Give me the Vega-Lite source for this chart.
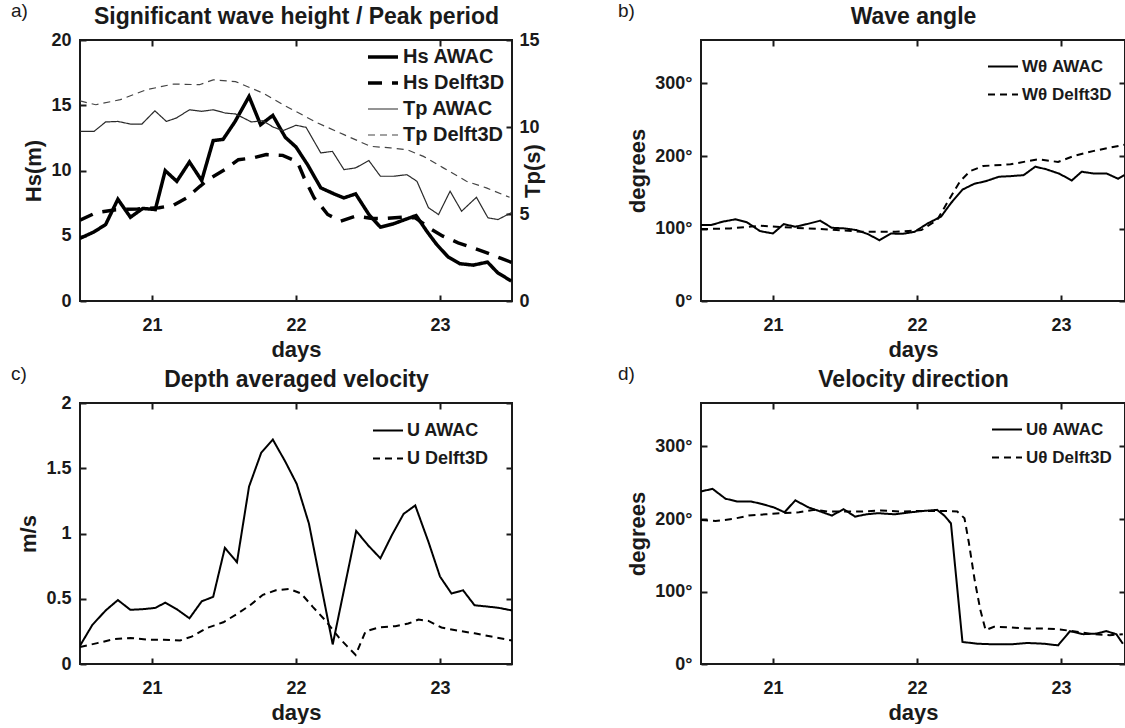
{
  "$schema": "https://vega.github.io/schema/vega-lite/v6.json",
  "background": "white",
  "padding": {"left": 10, "top": 1, "right": 0, "bottom": 0},
  "bounds": "flush",
  "columns": 2,
  "spacing": {"row": 102, "column": 189},
  "resolve": {"scale": {"strokeDash": "independent", "strokeWidth": "independent", "color": "independent"}, "legend": {"strokeDash": "independent", "strokeWidth": "independent", "color": "independent"}},
  "config": {
    "font": "Liberation Sans",
    "view": {"stroke": "#1a1a1a", "strokeWidth": 2},
    "axis": {"domain": false, "grid": false, "ticks": true, "tickSize": -6, "tickWidth": 2, "tickColor": "#1a1a1a",
      "labelFont": "Liberation Sans", "labelFontSize": 18, "labelFontWeight": "bold", "labelColor": "#1a1a1a",
      "titleFont": "Liberation Sans", "titleFontSize": 22, "titleFontWeight": "bold", "titleColor": "#1a1a1a"},
    "axisBottom": {"labelPadding": 21, "titlePadding": 5},
    "axisLeft": {"labelPadding": 15, "titlePadding": 5},
    "axisRight": {"labelPadding": 13, "titlePadding": 5, "titleAngle": 270},
    "axisTop": {"labels": false, "titleFontSize": 23, "titlePadding": 11},
    "title": {"font": "Liberation Sans", "fontSize": 19, "fontWeight": "normal", "color": "#1a1a1a", "anchor": "start", "frame": "group", "offset": 0},
    "legend": {"orient": "none", "title": null, "symbolType": "stroke", "symbolSize": 900, "labelFont": "Liberation Sans", "labelFontWeight": "bold", "labelColor": "#1a1a1a", "padding": 0, "labelOffset": 3}
  },
  "datasets": {
    "hs": [
      {"day": 20.5, "value": 4.8, "series": "Hs AWAC"},
      {"day": 20.598, "value": 5.3, "series": "Hs AWAC"},
      {"day": 20.678, "value": 5.86, "series": "Hs AWAC"},
      {"day": 20.763, "value": 7.8, "series": "Hs AWAC"},
      {"day": 20.85, "value": 6.42, "series": "Hs AWAC"},
      {"day": 20.936, "value": 7.09, "series": "Hs AWAC"},
      {"day": 21.023, "value": 7.01, "series": "Hs AWAC"},
      {"day": 21.092, "value": 9.99, "series": "Hs AWAC"},
      {"day": 21.172, "value": 9.17, "series": "Hs AWAC"},
      {"day": 21.26, "value": 10.65, "series": "Hs AWAC"},
      {"day": 21.345, "value": 9.23, "series": "Hs AWAC"},
      {"day": 21.425, "value": 12.29, "series": "Hs AWAC"},
      {"day": 21.494, "value": 12.39, "series": "Hs AWAC"},
      {"day": 21.575, "value": 13.72, "series": "Hs AWAC"},
      {"day": 21.674, "value": 15.67, "series": "Hs AWAC"},
      {"day": 21.754, "value": 13.51, "series": "Hs AWAC"},
      {"day": 21.839, "value": 14.22, "series": "Hs AWAC"},
      {"day": 21.926, "value": 12.54, "series": "Hs AWAC"},
      {"day": 22.0, "value": 11.8, "series": "Hs AWAC"},
      {"day": 22.08, "value": 10.45, "series": "Hs AWAC"},
      {"day": 22.172, "value": 8.67, "series": "Hs AWAC"},
      {"day": 22.264, "value": 8.21, "series": "Hs AWAC"},
      {"day": 22.333, "value": 7.9, "series": "Hs AWAC"},
      {"day": 22.414, "value": 8.21, "series": "Hs AWAC"},
      {"day": 22.506, "value": 6.63, "series": "Hs AWAC"},
      {"day": 22.586, "value": 5.66, "series": "Hs AWAC"},
      {"day": 22.678, "value": 5.92, "series": "Hs AWAC"},
      {"day": 22.759, "value": 6.25, "series": "Hs AWAC"},
      {"day": 22.834, "value": 6.55, "series": "Hs AWAC"},
      {"day": 22.908, "value": 5.35, "series": "Hs AWAC"},
      {"day": 22.977, "value": 4.33, "series": "Hs AWAC"},
      {"day": 23.057, "value": 3.37, "series": "Hs AWAC"},
      {"day": 23.138, "value": 2.86, "series": "Hs AWAC"},
      {"day": 23.23, "value": 2.75, "series": "Hs AWAC"},
      {"day": 23.33, "value": 2.98, "series": "Hs AWAC"},
      {"day": 23.4, "value": 2.17, "series": "Hs AWAC"},
      {"day": 23.495, "value": 1.53, "series": "Hs AWAC"},
      {"day": 20.5, "value": 6.2, "series": "Hs Delft3D"},
      {"day": 20.61, "value": 6.76, "series": "Hs Delft3D"},
      {"day": 20.75, "value": 7.0, "series": "Hs Delft3D"},
      {"day": 20.9, "value": 7.05, "series": "Hs Delft3D"},
      {"day": 21.05, "value": 7.15, "series": "Hs Delft3D"},
      {"day": 21.15, "value": 7.34, "series": "Hs Delft3D"},
      {"day": 21.24, "value": 7.9, "series": "Hs Delft3D"},
      {"day": 21.333, "value": 8.79, "series": "Hs Delft3D"},
      {"day": 21.4, "value": 9.38, "series": "Hs Delft3D"},
      {"day": 21.506, "value": 10.07, "series": "Hs Delft3D"},
      {"day": 21.6, "value": 10.83, "series": "Hs Delft3D"},
      {"day": 21.7, "value": 10.96, "series": "Hs Delft3D"},
      {"day": 21.793, "value": 11.22, "series": "Hs Delft3D"},
      {"day": 21.908, "value": 11.16, "series": "Hs Delft3D"},
      {"day": 22.01, "value": 10.66, "series": "Hs Delft3D"},
      {"day": 22.057, "value": 9.43, "series": "Hs Delft3D"},
      {"day": 22.126, "value": 7.9, "series": "Hs Delft3D"},
      {"day": 22.184, "value": 7.14, "series": "Hs Delft3D"},
      {"day": 22.22, "value": 6.63, "series": "Hs Delft3D"},
      {"day": 22.31, "value": 6.12, "series": "Hs Delft3D"},
      {"day": 22.414, "value": 6.5, "series": "Hs Delft3D"},
      {"day": 22.529, "value": 6.32, "series": "Hs Delft3D"},
      {"day": 22.62, "value": 6.32, "series": "Hs Delft3D"},
      {"day": 22.736, "value": 6.42, "series": "Hs Delft3D"},
      {"day": 22.828, "value": 6.37, "series": "Hs Delft3D"},
      {"day": 22.943, "value": 5.48, "series": "Hs Delft3D"},
      {"day": 23.02, "value": 4.97, "series": "Hs Delft3D"},
      {"day": 23.126, "value": 4.46, "series": "Hs Delft3D"},
      {"day": 23.23, "value": 4.08, "series": "Hs Delft3D"},
      {"day": 23.322, "value": 3.7, "series": "Hs Delft3D"},
      {"day": 23.425, "value": 3.26, "series": "Hs Delft3D"},
      {"day": 23.5, "value": 2.95, "series": "Hs Delft3D"}
    ],
    "tp": [
      {"day": 20.5, "value": 9.75, "series": "Tp AWAC"},
      {"day": 20.598, "value": 9.75, "series": "Tp AWAC"},
      {"day": 20.678, "value": 10.29, "series": "Tp AWAC"},
      {"day": 20.763, "value": 10.32, "series": "Tp AWAC"},
      {"day": 20.85, "value": 10.17, "series": "Tp AWAC"},
      {"day": 20.93, "value": 10.17, "series": "Tp AWAC"},
      {"day": 21.02, "value": 10.93, "series": "Tp AWAC"},
      {"day": 21.1, "value": 10.32, "series": "Tp AWAC"},
      {"day": 21.17, "value": 10.52, "series": "Tp AWAC"},
      {"day": 21.26, "value": 10.99, "series": "Tp AWAC"},
      {"day": 21.345, "value": 10.9, "series": "Tp AWAC"},
      {"day": 21.425, "value": 10.99, "series": "Tp AWAC"},
      {"day": 21.51, "value": 10.8, "series": "Tp AWAC"},
      {"day": 21.58, "value": 10.75, "series": "Tp AWAC"},
      {"day": 21.69, "value": 10.29, "series": "Tp AWAC"},
      {"day": 21.77, "value": 10.36, "series": "Tp AWAC"},
      {"day": 21.84, "value": 10.0, "series": "Tp AWAC"},
      {"day": 21.91, "value": 9.79, "series": "Tp AWAC"},
      {"day": 22.0, "value": 10.1, "series": "Tp AWAC"},
      {"day": 22.07, "value": 9.98, "series": "Tp AWAC"},
      {"day": 22.172, "value": 8.51, "series": "Tp AWAC"},
      {"day": 22.253, "value": 8.6, "series": "Tp AWAC"},
      {"day": 22.333, "value": 7.55, "series": "Tp AWAC"},
      {"day": 22.414, "value": 7.65, "series": "Tp AWAC"},
      {"day": 22.506, "value": 8.07, "series": "Tp AWAC"},
      {"day": 22.586, "value": 7.17, "series": "Tp AWAC"},
      {"day": 22.678, "value": 7.17, "series": "Tp AWAC"},
      {"day": 22.77, "value": 7.26, "series": "Tp AWAC"},
      {"day": 22.84, "value": 6.88, "series": "Tp AWAC"},
      {"day": 22.92, "value": 5.36, "series": "Tp AWAC"},
      {"day": 22.99, "value": 4.97, "series": "Tp AWAC"},
      {"day": 23.07, "value": 6.31, "series": "Tp AWAC"},
      {"day": 23.15, "value": 5.16, "series": "Tp AWAC"},
      {"day": 23.253, "value": 5.96, "series": "Tp AWAC"},
      {"day": 23.333, "value": 4.78, "series": "Tp AWAC"},
      {"day": 23.402, "value": 4.68, "series": "Tp AWAC"},
      {"day": 23.494, "value": 5.07, "series": "Tp AWAC"},
      {"day": 20.5, "value": 11.5, "series": "Tp Delft3D"},
      {"day": 20.61, "value": 11.28, "series": "Tp Delft3D"},
      {"day": 20.78, "value": 11.57, "series": "Tp Delft3D"},
      {"day": 20.96, "value": 12.14, "series": "Tp Delft3D"},
      {"day": 21.15, "value": 12.47, "series": "Tp Delft3D"},
      {"day": 21.33, "value": 12.43, "series": "Tp Delft3D"},
      {"day": 21.425, "value": 12.71, "series": "Tp Delft3D"},
      {"day": 21.58, "value": 12.61, "series": "Tp Delft3D"},
      {"day": 21.77, "value": 11.95, "series": "Tp Delft3D"},
      {"day": 21.91, "value": 11.28, "series": "Tp Delft3D"},
      {"day": 22.02, "value": 10.8, "series": "Tp Delft3D"},
      {"day": 22.15, "value": 10.23, "series": "Tp Delft3D"},
      {"day": 22.333, "value": 9.56, "series": "Tp Delft3D"},
      {"day": 22.517, "value": 8.89, "series": "Tp Delft3D"},
      {"day": 22.655, "value": 8.8, "series": "Tp Delft3D"},
      {"day": 22.77, "value": 8.7, "series": "Tp Delft3D"},
      {"day": 22.885, "value": 8.31, "series": "Tp Delft3D"},
      {"day": 23.023, "value": 7.65, "series": "Tp Delft3D"},
      {"day": 23.184, "value": 6.88, "series": "Tp Delft3D"},
      {"day": 23.322, "value": 6.5, "series": "Tp Delft3D"},
      {"day": 23.483, "value": 5.96, "series": "Tp Delft3D"}
    ],
    "wave": [
      {"day": 20.5, "value": 104.7, "series": "Wθ AWAC"},
      {"day": 20.57, "value": 104.7, "series": "Wθ AWAC"},
      {"day": 20.65, "value": 109.4, "series": "Wθ AWAC"},
      {"day": 20.74, "value": 112.7, "series": "Wθ AWAC"},
      {"day": 20.82, "value": 108.5, "series": "Wθ AWAC"},
      {"day": 20.91, "value": 96.4, "series": "Wθ AWAC"},
      {"day": 21.0, "value": 93.1, "series": "Wθ AWAC"},
      {"day": 21.075, "value": 106.1, "series": "Wθ AWAC"},
      {"day": 21.155, "value": 102.4, "series": "Wθ AWAC"},
      {"day": 21.236, "value": 106.1, "series": "Wθ AWAC"},
      {"day": 21.328, "value": 110.8, "series": "Wθ AWAC"},
      {"day": 21.408, "value": 101, "series": "Wθ AWAC"},
      {"day": 21.5, "value": 100.1, "series": "Wθ AWAC"},
      {"day": 21.58, "value": 97.8, "series": "Wθ AWAC"},
      {"day": 21.66, "value": 92.2, "series": "Wθ AWAC"},
      {"day": 21.74, "value": 83.8, "series": "Wθ AWAC"},
      {"day": 21.82, "value": 93.1, "series": "Wθ AWAC"},
      {"day": 21.9, "value": 92.6, "series": "Wθ AWAC"},
      {"day": 21.983, "value": 95.4, "series": "Wθ AWAC"},
      {"day": 22.075, "value": 107.1, "series": "Wθ AWAC"},
      {"day": 22.167, "value": 116.3, "series": "Wθ AWAC"},
      {"day": 22.236, "value": 135, "series": "Wθ AWAC"},
      {"day": 22.316, "value": 153.6, "series": "Wθ AWAC"},
      {"day": 22.397, "value": 161.6, "series": "Wθ AWAC"},
      {"day": 22.477, "value": 165.2, "series": "Wθ AWAC"},
      {"day": 22.569, "value": 171.4, "series": "Wθ AWAC"},
      {"day": 22.65, "value": 172.2, "series": "Wθ AWAC"},
      {"day": 22.741, "value": 173.6, "series": "Wθ AWAC"},
      {"day": 22.822, "value": 185.3, "series": "Wθ AWAC"},
      {"day": 22.9, "value": 181.6, "series": "Wθ AWAC"},
      {"day": 22.99, "value": 175.5, "series": "Wθ AWAC"},
      {"day": 23.075, "value": 166.2, "series": "Wθ AWAC"},
      {"day": 23.144, "value": 178.3, "series": "Wθ AWAC"},
      {"day": 23.224, "value": 176, "series": "Wθ AWAC"},
      {"day": 23.316, "value": 176, "series": "Wθ AWAC"},
      {"day": 23.397, "value": 168.6, "series": "Wθ AWAC"},
      {"day": 23.44, "value": 173.6, "series": "Wθ AWAC"},
      {"day": 20.5, "value": 99.2, "series": "Wθ Delft3D"},
      {"day": 20.7, "value": 100, "series": "Wθ Delft3D"},
      {"day": 20.91, "value": 103.8, "series": "Wθ Delft3D"},
      {"day": 21.15, "value": 101, "series": "Wθ Delft3D"},
      {"day": 21.39, "value": 98.7, "series": "Wθ Delft3D"},
      {"day": 21.62, "value": 95.4, "series": "Wθ Delft3D"},
      {"day": 21.85, "value": 95.4, "series": "Wθ Delft3D"},
      {"day": 22.03, "value": 97.8, "series": "Wθ Delft3D"},
      {"day": 22.14, "value": 111.7, "series": "Wθ Delft3D"},
      {"day": 22.236, "value": 144.3, "series": "Wθ Delft3D"},
      {"day": 22.3, "value": 165.2, "series": "Wθ Delft3D"},
      {"day": 22.37, "value": 179.2, "series": "Wθ Delft3D"},
      {"day": 22.46, "value": 186.2, "series": "Wθ Delft3D"},
      {"day": 22.65, "value": 188.5, "series": "Wθ Delft3D"},
      {"day": 22.84, "value": 195.5, "series": "Wθ Delft3D"},
      {"day": 22.98, "value": 191.8, "series": "Wθ Delft3D"},
      {"day": 23.09, "value": 200.1, "series": "Wθ Delft3D"},
      {"day": 23.23, "value": 207.1, "series": "Wθ Delft3D"},
      {"day": 23.44, "value": 215.5, "series": "Wθ Delft3D"}
    ],
    "vel": [
      {"day": 20.5, "value": 0.14, "series": "U AWAC"},
      {"day": 20.586, "value": 0.3, "series": "U AWAC"},
      {"day": 20.678, "value": 0.41, "series": "U AWAC"},
      {"day": 20.763, "value": 0.49, "series": "U AWAC"},
      {"day": 20.85, "value": 0.415, "series": "U AWAC"},
      {"day": 20.936, "value": 0.42, "series": "U AWAC"},
      {"day": 21.023, "value": 0.43, "series": "U AWAC"},
      {"day": 21.092, "value": 0.47, "series": "U AWAC"},
      {"day": 21.172, "value": 0.42, "series": "U AWAC"},
      {"day": 21.26, "value": 0.35, "series": "U AWAC"},
      {"day": 21.345, "value": 0.48, "series": "U AWAC"},
      {"day": 21.425, "value": 0.515, "series": "U AWAC"},
      {"day": 21.506, "value": 0.89, "series": "U AWAC"},
      {"day": 21.59, "value": 0.78, "series": "U AWAC"},
      {"day": 21.674, "value": 1.36, "series": "U AWAC"},
      {"day": 21.759, "value": 1.62, "series": "U AWAC"},
      {"day": 21.839, "value": 1.72, "series": "U AWAC"},
      {"day": 21.926, "value": 1.55, "series": "U AWAC"},
      {"day": 22.005, "value": 1.38, "series": "U AWAC"},
      {"day": 22.09, "value": 1.075, "series": "U AWAC"},
      {"day": 22.255, "value": 0.15, "series": "U AWAC"},
      {"day": 22.418, "value": 1.02, "series": "U AWAC"},
      {"day": 22.5, "value": 0.91, "series": "U AWAC"},
      {"day": 22.586, "value": 0.81, "series": "U AWAC"},
      {"day": 22.667, "value": 0.99, "series": "U AWAC"},
      {"day": 22.747, "value": 1.15, "series": "U AWAC"},
      {"day": 22.828, "value": 1.215, "series": "U AWAC"},
      {"day": 22.92, "value": 0.935, "series": "U AWAC"},
      {"day": 23.0, "value": 0.67, "series": "U AWAC"},
      {"day": 23.08, "value": 0.54, "series": "U AWAC"},
      {"day": 23.16, "value": 0.565, "series": "U AWAC"},
      {"day": 23.24, "value": 0.45, "series": "U AWAC"},
      {"day": 23.33, "value": 0.44, "series": "U AWAC"},
      {"day": 23.41, "value": 0.43, "series": "U AWAC"},
      {"day": 23.5, "value": 0.41, "series": "U AWAC"},
      {"day": 20.5, "value": 0.13, "series": "U Delft3D"},
      {"day": 20.62, "value": 0.16, "series": "U Delft3D"},
      {"day": 20.735, "value": 0.19, "series": "U Delft3D"},
      {"day": 20.85, "value": 0.2, "series": "U Delft3D"},
      {"day": 20.98, "value": 0.185, "series": "U Delft3D"},
      {"day": 21.08, "value": 0.185, "series": "U Delft3D"},
      {"day": 21.195, "value": 0.18, "series": "U Delft3D"},
      {"day": 21.275, "value": 0.21, "series": "U Delft3D"},
      {"day": 21.38, "value": 0.275, "series": "U Delft3D"},
      {"day": 21.495, "value": 0.32, "series": "U Delft3D"},
      {"day": 21.586, "value": 0.38, "series": "U Delft3D"},
      {"day": 21.68, "value": 0.45, "series": "U Delft3D"},
      {"day": 21.77, "value": 0.53, "series": "U Delft3D"},
      {"day": 21.86, "value": 0.565, "series": "U Delft3D"},
      {"day": 21.955, "value": 0.575, "series": "U Delft3D"},
      {"day": 22.035, "value": 0.54, "series": "U Delft3D"},
      {"day": 22.115, "value": 0.44, "series": "U Delft3D"},
      {"day": 22.207, "value": 0.33, "series": "U Delft3D"},
      {"day": 22.3, "value": 0.2, "series": "U Delft3D"},
      {"day": 22.356, "value": 0.135, "series": "U Delft3D"},
      {"day": 22.414, "value": 0.07, "series": "U Delft3D"},
      {"day": 22.483, "value": 0.25, "series": "U Delft3D"},
      {"day": 22.575, "value": 0.28, "series": "U Delft3D"},
      {"day": 22.69, "value": 0.29, "series": "U Delft3D"},
      {"day": 22.78, "value": 0.31, "series": "U Delft3D"},
      {"day": 22.85, "value": 0.34, "series": "U Delft3D"},
      {"day": 22.92, "value": 0.33, "series": "U Delft3D"},
      {"day": 23.01, "value": 0.28, "series": "U Delft3D"},
      {"day": 23.126, "value": 0.255, "series": "U Delft3D"},
      {"day": 23.24, "value": 0.235, "series": "U Delft3D"},
      {"day": 23.356, "value": 0.21, "series": "U Delft3D"},
      {"day": 23.5, "value": 0.18, "series": "U Delft3D"}
    ],
    "dir": [
      {"day": 20.5, "value": 238, "series": "Uθ AWAC"},
      {"day": 20.58, "value": 241.6, "series": "Uθ AWAC"},
      {"day": 20.67, "value": 228, "series": "Uθ AWAC"},
      {"day": 20.75, "value": 224.3, "series": "Uθ AWAC"},
      {"day": 20.845, "value": 224.3, "series": "Uθ AWAC"},
      {"day": 20.925, "value": 220.6, "series": "Uθ AWAC"},
      {"day": 21.006, "value": 216, "series": "Uθ AWAC"},
      {"day": 21.08, "value": 209.3, "series": "Uθ AWAC"},
      {"day": 21.155, "value": 225.7, "series": "Uθ AWAC"},
      {"day": 21.247, "value": 216, "series": "Uθ AWAC"},
      {"day": 21.33, "value": 210.3, "series": "Uθ AWAC"},
      {"day": 21.41, "value": 204.7, "series": "Uθ AWAC"},
      {"day": 21.49, "value": 213.6, "series": "Uθ AWAC"},
      {"day": 21.57, "value": 203.3, "series": "Uθ AWAC"},
      {"day": 21.65, "value": 206.5, "series": "Uθ AWAC"},
      {"day": 21.73, "value": 208, "series": "Uθ AWAC"},
      {"day": 21.845, "value": 206.5, "series": "Uθ AWAC"},
      {"day": 21.96, "value": 209.3, "series": "Uθ AWAC"},
      {"day": 22.05, "value": 211.2, "series": "Uθ AWAC"},
      {"day": 22.14, "value": 212.6, "series": "Uθ AWAC"},
      {"day": 22.19, "value": 204.7, "series": "Uθ AWAC"},
      {"day": 22.236, "value": 194, "series": "Uθ AWAC"},
      {"day": 22.316, "value": 30.4, "series": "Uθ AWAC"},
      {"day": 22.42, "value": 28, "series": "Uθ AWAC"},
      {"day": 22.535, "value": 27.1, "series": "Uθ AWAC"},
      {"day": 22.65, "value": 27.1, "series": "Uθ AWAC"},
      {"day": 22.764, "value": 29, "series": "Uθ AWAC"},
      {"day": 22.88, "value": 28, "series": "Uθ AWAC"},
      {"day": 22.98, "value": 25.7, "series": "Uθ AWAC"},
      {"day": 23.063, "value": 45.3, "series": "Uθ AWAC"},
      {"day": 23.155, "value": 41.1, "series": "Uθ AWAC"},
      {"day": 23.247, "value": 42, "series": "Uθ AWAC"},
      {"day": 23.316, "value": 45.3, "series": "Uθ AWAC"},
      {"day": 23.385, "value": 41.1, "series": "Uθ AWAC"},
      {"day": 23.43, "value": 28, "series": "Uθ AWAC"},
      {"day": 20.5, "value": 198.6, "series": "Uθ Delft3D"},
      {"day": 20.6, "value": 197.2, "series": "Uθ Delft3D"},
      {"day": 20.72, "value": 200, "series": "Uθ Delft3D"},
      {"day": 20.83, "value": 204.7, "series": "Uθ Delft3D"},
      {"day": 20.95, "value": 206.5, "series": "Uθ Delft3D"},
      {"day": 21.06, "value": 208, "series": "Uθ Delft3D"},
      {"day": 21.18, "value": 209.3, "series": "Uθ Delft3D"},
      {"day": 21.29, "value": 212.6, "series": "Uθ Delft3D"},
      {"day": 21.385, "value": 210.3, "series": "Uθ Delft3D"},
      {"day": 21.5, "value": 210.3, "series": "Uθ Delft3D"},
      {"day": 21.615, "value": 210.3, "series": "Uθ Delft3D"},
      {"day": 21.75, "value": 211.7, "series": "Uθ Delft3D"},
      {"day": 21.89, "value": 210.3, "series": "Uθ Delft3D"},
      {"day": 22.03, "value": 211.2, "series": "Uθ Delft3D"},
      {"day": 22.17, "value": 211.2, "series": "Uθ Delft3D"},
      {"day": 22.28, "value": 210.3, "series": "Uθ Delft3D"},
      {"day": 22.33, "value": 201, "series": "Uθ Delft3D"},
      {"day": 22.36, "value": 168, "series": "Uθ Delft3D"},
      {"day": 22.4, "value": 116.8, "series": "Uθ Delft3D"},
      {"day": 22.44, "value": 74.8, "series": "Uθ Delft3D"},
      {"day": 22.477, "value": 46.7, "series": "Uθ Delft3D"},
      {"day": 22.535, "value": 51.4, "series": "Uθ Delft3D"},
      {"day": 22.65, "value": 50.5, "series": "Uθ Delft3D"},
      {"day": 22.764, "value": 49, "series": "Uθ Delft3D"},
      {"day": 22.88, "value": 49, "series": "Uθ Delft3D"},
      {"day": 22.994, "value": 47.7, "series": "Uθ Delft3D"},
      {"day": 23.11, "value": 44.4, "series": "Uθ Delft3D"},
      {"day": 23.224, "value": 41.1, "series": "Uθ Delft3D"},
      {"day": 23.34, "value": 39.7, "series": "Uθ Delft3D"},
      {"day": 23.43, "value": 41.1, "series": "Uθ Delft3D"}
    ]
  },
  "concat": [
    {
      "width": 432, "height": 261,
      "title": {"text": "a)", "dx": -69, "dy": 20},
      "resolve": {"scale": {"y": "independent", "strokeDash": "shared", "strokeWidth": "shared", "color": "shared"}, "axis": {"x": "independent", "y": "independent"}},
      "encoding": {
        "strokeDash": {"field": "series", "type": "nominal",
          "scale": {"domain": ["Hs AWAC", "Hs Delft3D", "Tp AWAC", "Tp Delft3D"], "range": [[1, 0], [14, 10], [1, 0], [7, 5]]},
          "legend": {"legendX": 286, "legendY": 7, "labelFontSize": 20, "clipHeight": 20, "rowPadding": 6}},
        "strokeWidth": {"field": "series", "type": "nominal",
          "scale": {"type": "ordinal", "domain": ["Hs AWAC", "Hs Delft3D", "Tp AWAC", "Tp Delft3D"], "range": [3.5, 3.5, 1.2, 1.2]},
          "legend": {"legendX": 286, "legendY": 7, "labelFontSize": 20, "clipHeight": 20, "rowPadding": 6}},
        "color": {"field": "series", "type": "nominal",
          "scale": {"domain": ["Hs AWAC", "Hs Delft3D", "Tp AWAC", "Tp Delft3D"], "range": ["#000000", "#000000", "#2a2a2a", "#444444"]},
          "legend": {"legendX": 286, "legendY": 7, "labelFontSize": 20, "clipHeight": 20, "rowPadding": 6}}
      },
      "layer": [
        {
          "data": {"name": "hs"},
          "mark": {"type": "line", "clip": true},
          "encoding": {
            "x": {"field": "day", "type": "quantitative", "scale": {"domain": [20.5, 23.5], "nice": false, "zero": false},
                  "axis": {"orient": "bottom", "values": [21, 22, 23], "title": "days"}},
            "y": {"field": "value", "type": "quantitative", "scale": {"domain": [0, 20], "nice": false},
                  "axis": {"orient": "left", "values": [0, 5, 10, 15, 20], "title": "Hs(m)"}}
          }
        },
        {
          "data": {"name": "tp"},
          "mark": {"type": "line", "clip": true},
          "encoding": {
            "x": {"field": "day", "type": "quantitative",
                  "axis": {"orient": "top", "values": [21, 22, 23], "title": "Significant wave height / Peak period"}},
            "y": {"field": "value", "type": "quantitative", "scale": {"domain": [0, 15], "nice": false},
                  "axis": {"orient": "right", "values": [0, 5, 10, 15], "title": "Tp(s)"}}
          }
        }
      ]
    },
    {
      "width": 424, "height": 261,
      "title": {"text": "b)", "dx": -83, "dy": 20},
      "data": {"name": "wave"},
      "resolve": {"axis": {"x": "independent", "y": "independent"}},
      "encoding": {
        "strokeDash": {"field": "series", "type": "nominal",
          "scale": {"domain": ["Wθ AWAC", "Wθ Delft3D"], "range": [[1, 0], [7, 5]]},
          "legend": {"legendX": 286, "legendY": 18, "labelFontSize": 17, "clipHeight": 17, "rowPadding": 10}},
        "strokeWidth": {"field": "series", "type": "nominal",
          "scale": {"type": "ordinal", "domain": ["Wθ AWAC", "Wθ Delft3D"], "range": [2, 2]},
          "legend": {"legendX": 286, "legendY": 18, "labelFontSize": 17, "clipHeight": 17, "rowPadding": 10}}
      },
      "layer": [
        {
          "transform": [{"filter": "datum.series === 'Wθ AWAC'"}],
          "mark": {"type": "line", "clip": true, "color": "#000000"},
          "encoding": {
            "x": {"field": "day", "type": "quantitative", "scale": {"domain": [20.5, 23.445], "nice": false, "zero": false},
                  "axis": {"orient": "bottom", "values": [21, 22, 23], "title": "days"}},
            "y": {"field": "value", "type": "quantitative", "scale": {"domain": [0, 360], "nice": false},
                  "axis": {"orient": "left", "values": [0, 100, 200, 300], "labelExpr": "datum.value + '°'", "title": "degrees"}}
          }
        },
        {
          "transform": [{"filter": "datum.series === 'Wθ Delft3D'"}],
          "mark": {"type": "line", "clip": true, "color": "#000000"},
          "encoding": {
            "x": {"field": "day", "type": "quantitative", "axis": {"orient": "top", "values": [21, 22, 23], "title": "Wave angle"}},
            "y": {"field": "value", "type": "quantitative", "axis": {"orient": "right", "values": [0, 100, 200, 300], "labels": false, "title": null}}
          }
        }
      ]
    },
    {
      "width": 432, "height": 261,
      "title": {"text": "c)", "dx": -69, "dy": 20},
      "data": {"name": "vel"},
      "resolve": {"axis": {"x": "independent", "y": "independent"}},
      "encoding": {
        "strokeDash": {"field": "series", "type": "nominal",
          "scale": {"domain": ["U AWAC", "U Delft3D"], "range": [[1, 0], [7, 5]]},
          "legend": {"legendX": 292, "legendY": 19, "labelFontSize": 18, "clipHeight": 17, "rowPadding": 9}},
        "strokeWidth": {"field": "series", "type": "nominal",
          "scale": {"type": "ordinal", "domain": ["U AWAC", "U Delft3D"], "range": [2, 2]},
          "legend": {"legendX": 292, "legendY": 19, "labelFontSize": 18, "clipHeight": 17, "rowPadding": 9}}
      },
      "layer": [
        {
          "transform": [{"filter": "datum.series === 'U AWAC'"}],
          "mark": {"type": "line", "clip": true, "color": "#000000"},
          "encoding": {
            "x": {"field": "day", "type": "quantitative", "scale": {"domain": [20.5, 23.5], "nice": false, "zero": false},
                  "axis": {"orient": "bottom", "values": [21, 22, 23], "title": "days"}},
            "y": {"field": "value", "type": "quantitative", "scale": {"domain": [0, 2], "nice": false},
                  "axis": {"orient": "left", "values": [0, 0.5, 1, 1.5, 2], "format": "~g", "title": "m/s"}}
          }
        },
        {
          "transform": [{"filter": "datum.series === 'U Delft3D'"}],
          "mark": {"type": "line", "clip": true, "color": "#000000"},
          "encoding": {
            "x": {"field": "day", "type": "quantitative", "axis": {"orient": "top", "values": [21, 22, 23], "title": "Depth averaged velocity"}},
            "y": {"field": "value", "type": "quantitative", "axis": {"orient": "right", "values": [0, 0.5, 1, 1.5, 2], "labels": false, "title": null}}
          }
        }
      ]
    },
    {
      "width": 424, "height": 261,
      "title": {"text": "d)", "dx": -83, "dy": 20},
      "data": {"name": "dir"},
      "resolve": {"axis": {"x": "independent", "y": "independent"}},
      "encoding": {
        "strokeDash": {"field": "series", "type": "nominal",
          "scale": {"domain": ["Uθ AWAC", "Uθ Delft3D"], "range": [[1, 0], [7, 5]]},
          "legend": {"legendX": 290, "legendY": 18, "labelFontSize": 17, "clipHeight": 17, "rowPadding": 10}},
        "strokeWidth": {"field": "series", "type": "nominal",
          "scale": {"type": "ordinal", "domain": ["Uθ AWAC", "Uθ Delft3D"], "range": [2, 2]},
          "legend": {"legendX": 290, "legendY": 18, "labelFontSize": 17, "clipHeight": 17, "rowPadding": 10}}
      },
      "layer": [
        {
          "transform": [{"filter": "datum.series === 'Uθ AWAC'"}],
          "mark": {"type": "line", "clip": true, "color": "#000000"},
          "encoding": {
            "x": {"field": "day", "type": "quantitative", "scale": {"domain": [20.5, 23.445], "nice": false, "zero": false},
                  "axis": {"orient": "bottom", "values": [21, 22, 23], "title": "days"}},
            "y": {"field": "value", "type": "quantitative", "scale": {"domain": [0, 360], "nice": false},
                  "axis": {"orient": "left", "values": [0, 100, 200, 300], "labelExpr": "datum.value + '°'", "title": "degrees"}}
          }
        },
        {
          "transform": [{"filter": "datum.series === 'Uθ Delft3D'"}],
          "mark": {"type": "line", "clip": true, "color": "#000000"},
          "encoding": {
            "x": {"field": "day", "type": "quantitative", "axis": {"orient": "top", "values": [21, 22, 23], "title": "Velocity direction"}},
            "y": {"field": "value", "type": "quantitative", "axis": {"orient": "right", "values": [0, 100, 200, 300], "labels": false, "title": null}}
          }
        }
      ]
    }
  ]
}
